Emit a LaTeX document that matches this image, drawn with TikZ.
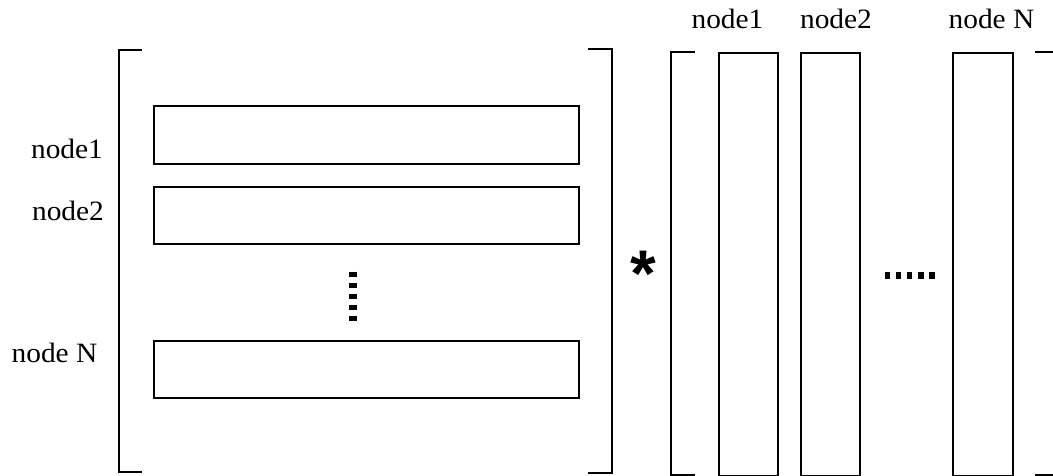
\documentclass[tikz,border=0pt]{standalone}
\usepackage{fontspec}
\setmainfont{Liberation Serif}
\newfontfamily\starfont{Liberation Sans Bold}
\begin{document}
\begin{tikzpicture}[x=1pt,y=-1pt,
  line width=2pt,
  bar/.style={draw=black, line width=2pt},
  lbl/.style={font=\fontsize{28}{32}\selectfont, inner sep=0pt, anchor=base},
  dotrow/.style={line width=7.5pt, dash pattern=on 5.2pt off 5.9pt}]
\useasboundingbox (0,0) rectangle (1053,476);

% left matrix: brackets
\draw (142,50) -- (119,50) -- (119,472) -- (142,472);
\draw (588,49) -- (612,49) -- (612,473) -- (588,473);

% left matrix: rows
\node[bar, minimum width=425pt, minimum height=58pt, anchor=north west] (r1) at (153,105) {};
\node[bar, minimum width=425pt, minimum height=57pt, anchor=north west] (r2) at (153,186) {};
\node[bar, minimum width=425pt, minimum height=57pt, anchor=north west] (rN) at (153,340) {};

\node[lbl] (l1) at (67,159) {\scalebox{1.05}[1]{node1}};
\node[lbl] (l2) at (68,220) {\scalebox{1.05}[1]{node2}};
\node[lbl] (lN) at (54.5,362) {\scalebox{1.05}[1]{node N}};

% vertical ellipsis
\coordinate (vd1) at (353,271.5);
\coordinate (vd2) at (353,322);
\draw[dotrow, line width=8pt, dash pattern=on 5.5pt off 5.5pt] (vd1) -- (vd2);

% multiplication sign
\node[inner sep=0pt, anchor=base, font=\starfont\fontsize{66}{70}\selectfont] (star) at (643.5,296) {*};

% right matrix: brackets
\draw (695,52) -- (671,52) -- (671,475) -- (695,475);
\draw (1035,52) -- (1058,52) -- (1058,475) -- (1035,475);

% right matrix: columns
\node[bar, minimum width=59pt, minimum height=423pt, anchor=north west] (c1) at (718,52) {};
\node[bar, minimum width=59pt, minimum height=423pt, anchor=north west] (c2) at (800,52) {};
\node[bar, minimum width=60pt, minimum height=423pt, anchor=north west] (cN) at (952,52) {};

\node[lbl] (t1) at (727.5,29) {\scalebox{1.05}[1]{node1}};
\node[lbl] (t2) at (836,29) {\scalebox{1.05}[1]{node2}};
\node[lbl] (tN) at (991.5,29) {\scalebox{1.05}[1]{node N}};

% horizontal ellipsis
\coordinate (hd1) at (885,275.5);
\coordinate (hd2) at (936,275.5);
\draw[dotrow] (hd1) -- (hd2);
\end{tikzpicture}
\end{document}
